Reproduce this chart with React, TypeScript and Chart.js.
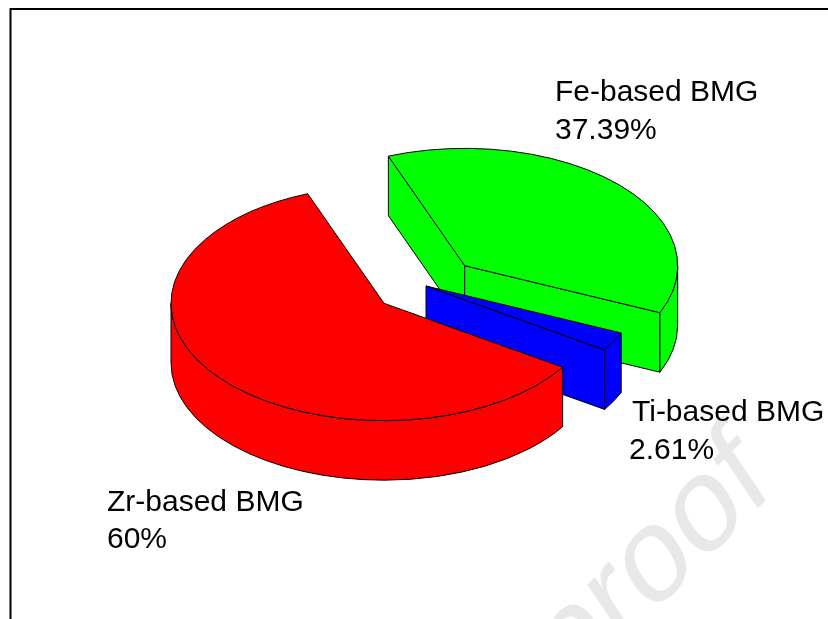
import React, { useEffect, useRef } from "react";
import { Chart, registerables } from "chart.js";

Chart.register(...registerables);

const categories = ["Fe-based BMG", "Ti-based BMG", "Zr-based BMG"];
const shares = [37.39, 2.61, 60];
const shareLabels = ["37.39%", "2.61%", "60%"];
const colors = ["#00ff00", "#0000ff", "#ff0000"];

// Styling / layout of the exploded 3-D look
const explode = [[50.7, -43.8], [12, -23.5], [-30, -6.2]];
const labelAnchors = [[555, 101, 555, 139], [632, 421, 629, 459], [107, 511, 107, 548]];
const TILT = 0.551;
const DEPTH = 59.5;
const FONT = '30px "Liberation Sans"';

function wallIntervals(s: number, e: number) {
  const out: [number, number][] = [];
  for (const k of [-2, 0, 2]) {
    const a = Math.max(s, k * Math.PI);
    const b = Math.min(e, (k + 1) * Math.PI);
    if (b > a) out.push([a, b]);
  }
  return out;
}

const pie3d = {
  id: "pie3d",
  beforeDraw(chart: any) {
    const ctx = chart.ctx;
    ctx.save();
    ctx.fillStyle = "#ffffff";
    ctx.fillRect(0, 0, chart.width, chart.height);
    ctx.transform(0.707, -0.707, 0.559, 0.829, 775, 491);
    ctx.font = '128px "Liberation Sans"';
    ctx.textAlign = "right";
    ctx.textBaseline = "alphabetic";
    ctx.fillStyle = "#e8e8e8";
    ctx.fillText("Journal Pre-proof", 0, 0);
    ctx.restore();
    ctx.save();
    ctx.strokeStyle = "#000000";
    ctx.lineWidth = 2;
    ctx.beginPath();
    ctx.moveTo(10.5, chart.height);
    ctx.lineTo(10.5, 9);
    ctx.lineTo(chart.width, 9);
    ctx.stroke();
    ctx.restore();
  },
  beforeDatasetsDraw(chart: any) {
    const ctx = chart.ctx;
    const arcs = chart.getDatasetMeta(0).data;
    arcs.forEach((arc: any, i: number) => {
      const s = arc.startAngle;
      const e = arc.endAngle;
      const rx = arc.outerRadius;
      const ry = rx * TILT;
      const cx = arc.x + explode[i][0];
      const cy = arc.y + explode[i][1];
      const color = colors[i];
      ctx.save();
      ctx.lineWidth = 1;
      ctx.strokeStyle = "#000000";
      ctx.fillStyle = color;
      ctx.lineJoin = "round";
      const cut = (t: number) => {
        const px = cx + rx * Math.cos(t);
        const py = cy + ry * Math.sin(t);
        ctx.beginPath();
        ctx.moveTo(cx, cy);
        ctx.lineTo(px, py);
        ctx.lineTo(px, py + DEPTH);
        ctx.lineTo(cx, cy + DEPTH);
        ctx.closePath();
        ctx.fill();
        ctx.stroke();
      };
      if (Math.cos(s) < 0) cut(s);
      if (Math.cos(e) > 0) cut(e);
      for (const [a, b] of wallIntervals(s, e)) {
        ctx.beginPath();
        ctx.ellipse(cx, cy, rx, ry, 0, a, b);
        ctx.ellipse(cx, cy + DEPTH, rx, ry, 0, b, a, true);
        ctx.closePath();
        ctx.fill();
        ctx.stroke();
      }
      // top face: the library's own arc, squashed into the tilted plane
      ctx.save();
      ctx.translate(cx, cy);
      ctx.scale(1, TILT);
      ctx.translate(-arc.x, -arc.y);
      arc.draw(ctx);
      ctx.restore();
      ctx.beginPath();
      ctx.moveTo(cx, cy);
      ctx.ellipse(cx, cy, rx, ry, 0, s, e);
      ctx.closePath();
      ctx.stroke();
      ctx.restore();
    });
    return false;
  },
  afterDraw(chart: any) {
    const ctx = chart.ctx;
    ctx.save();
    ctx.font = FONT;
    ctx.fillStyle = "#000000";
    ctx.textAlign = "left";
    ctx.textBaseline = "alphabetic";
    categories.forEach((c, i) => {
      const p = labelAnchors[i];
      ctx.fillText(c, p[0], p[1]);
      ctx.fillText(shareLabels[i], p[2], p[3]);
    });
    ctx.restore();
  },
};

export default function App() {
  const ref = useRef<HTMLCanvasElement | null>(null);
  useEffect(() => {
    const chart = new Chart(ref.current as HTMLCanvasElement, {
      type: "pie",
      data: {
        labels: categories,
        datasets: [{ data: shares, backgroundColor: colors, borderWidth: 0, hoverOffset: 0 }],
      },
      options: {
        animation: false,
        responsive: false,
        rotation: -21,
        radius: 213,
        layout: { padding: 0 },
        plugins: { legend: { display: false }, tooltip: { enabled: false } },
      },
      plugins: [pie3d],
    } as any);
    return () => chart.destroy();
  }, []);
  return (
    <canvas
      ref={ref}
      width={828}
      height={619}
      style={{ position: "fixed", left: 0, top: 0, display: "block" }}
    />
  );
}
